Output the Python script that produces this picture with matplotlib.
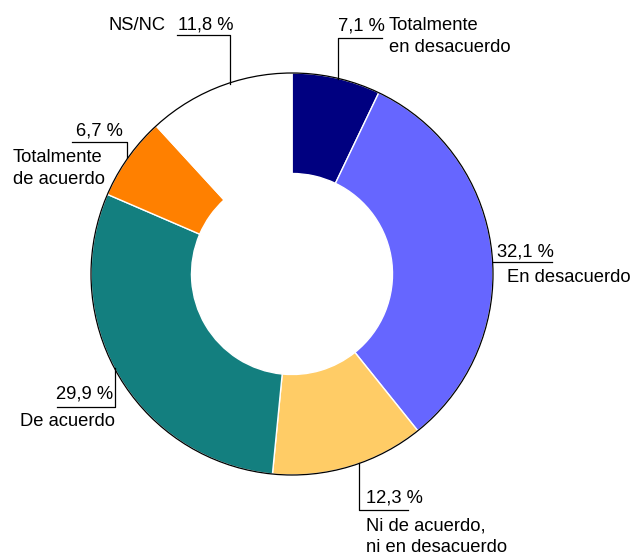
import numpy as np
import matplotlib
matplotlib.use('Agg')
import matplotlib.pyplot as plt

# data
labels = ['Totalmente\nen desacuerdo', 'En desacuerdo', 'Ni de acuerdo,\nni en desacuerdo',
          'De acuerdo', 'Totalmente\nde acuerdo', 'NS/NC']
values = [7.1, 32.1, 12.3, 29.9, 6.7, 11.8]
pct_text = ['7,1 %', '32,1 %', '12,3 %', '29,9 %', '6,7 %', '11,8 %']
colors = ['#000080', '#6666FF', '#FFCC66', '#137F7F', '#FF8000', '#FFFFFF']

W, H = 633, 556
plt.rcParams['font.family'] = ['Liberation Sans', 'DejaVu Sans']
fig = plt.figure(figsize=(W / 100, H / 100), dpi=100)
ax = fig.add_axes([0, 0, 1, 1])
ax.set_aspect('equal')


def py(y):
    # pixel row (from top) -> data y
    return H - y


cx, cy, r = 292, py(274), 201
ax.pie(values, colors=colors, startangle=90, counterclock=False,
       center=(cx, cy), radius=r, frame=True,
       wedgeprops=dict(width=r * 0.5, edgecolor='white', linewidth=1.0))
ax.add_patch(plt.Circle((cx, cy), r, fill=False, edgecolor='black', linewidth=0.9, zorder=3))
ax.set_xlim(0, W)
ax.set_ylim(0, H)
ax.axis('off')


def ring_y(x, top=True):
    d = np.sqrt(max(r ** 2 - (x - cx) ** 2, 0))
    return cy + d if top else cy - d


fs = 13.2
dy = 3  # text nudge down
lk = dict(color='black', lw=0.9)


def txt(x, y, s, ha='left'):
    ax.text(x, py(y + dy), s, fontsize=fs, va='center', ha=ha)


def multi(x, ys, s, ha='left'):
    for yy, line in zip(ys, s.split('\n')):
        txt(x, yy, line, ha)


# 7,1 % Totalmente en desacuerdo
x0 = 338
ax.plot([382, x0, x0], [py(38), py(38), ring_y(x0) - 1], **lk)
txt(338, 23, pct_text[0])
multi(389, [23, 45], labels[0])

# 32,1 % En desacuerdo
yl = 262
x1 = cx + np.sqrt(r ** 2 - (py(yl) - cy) ** 2)
ax.plot([x1, 552], [py(yl), py(yl)], **lk)
txt(497, 249, pct_text[1])
txt(507, 275, labels[1])

# 12,3 % Ni de acuerdo, ni en desacuerdo
x2 = 359
ax.plot([x2, x2, 408], [ring_y(x2, top=False) + 1, py(510), py(510)], **lk)
txt(366, 495, pct_text[2])
multi(366, [523, 545], labels[2])

# 29,9 % De acuerdo
x3 = 115
ax.plot([x3, x3, 57], [ring_y(x3, top=False) + 1, py(407), py(407)], **lk)
txt(113, 391, pct_text[3], ha='right')
txt(115, 418, labels[3], ha='right')

# 6,7 % Totalmente de acuerdo
x4 = 127
ax.plot([72, x4, x4], [py(142), py(142), ring_y(x4) + 1], **lk)
txt(123, 128, pct_text[4], ha='right')
multi(13, [155, 176], labels[4])

# NS/NC 11,8 %
x5 = 230
ax.plot([177, x5, x5], [py(35), py(35), ring_y(x5) - 1], **lk)
txt(178, 22, pct_text[5])
txt(166, 22, labels[5], ha='right')

fig.savefig('out.png', dpi=100)
